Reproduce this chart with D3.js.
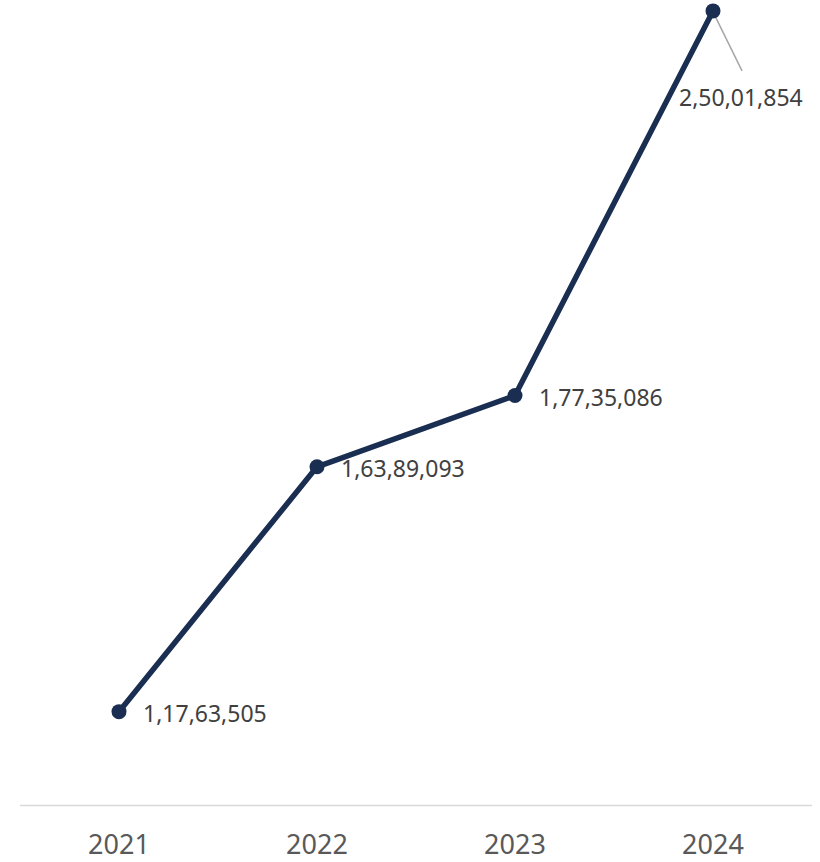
<!DOCTYPE html>
<html>
<head>
<meta charset="utf-8">
<script src="https://cdn.jsdelivr.net/npm/d3@7"></script>
<style>
  html, body { margin: 0; padding: 0; background: #fff; }
  svg text { font-family: "Noto Sans", "Open Sans", sans-serif; }
</style>
</head>
<body>
<svg id="chart" width="820" height="862"></svg>
<script>
"use strict";

const years = ["2021", "2022", "2023", "2024"];
const values = [11763505, 16389093, 17735086, 25001854];
const labels = ["1,17,63,505", "1,63,89,093", "1,77,35,086", "2,50,01,854"];

(function () {
  const svg = d3.select("#chart");
  const plotLeft = 20, plotRight = 812, axisY = 805, plotTop = 11;

  const x = d3.scalePoint().domain(years).range([plotLeft, plotRight]).padding(0.5);
  const y = d3.scaleLinear().domain([10000000, 25000000]).range([axisY, plotTop]);

  // axis baseline
  svg.append("line")
    .attr("x1", plotLeft).attr("x2", plotRight)
    .attr("y1", axisY + 0.5).attr("y2", axisY + 0.5)
    .attr("stroke", "#d9d9d9").attr("stroke-width", 1.5);

  // category labels
  svg.append("g").selectAll("text").data(years).enter().append("text")
    .attr("x", d => x(d))
    .attr("y", 854)
    .attr("text-anchor", "middle")
    .attr("font-size", 27)
    .attr("fill", "#595959")
    .text(d => d);

  const pts = years.map((yr, i) => ({yr, v: values[i], label: labels[i]}));

  // line
  svg.append("path")
    .datum(pts)
    .attr("fill", "none")
    .attr("stroke", "#1a2e52")
    .attr("stroke-width", 5.5)
    .attr("stroke-linejoin", "round")
    .attr("d", d3.line().x(d => x(d.yr)).y(d => y(d.v)));

  // leader line for last label
  const last = pts[pts.length - 1];
  svg.append("line")
    .attr("x1", x(last.yr) + 1).attr("y1", y(last.v) + 3)
    .attr("x2", x(last.yr) + 29).attr("y2", y(last.v) + 60)
    .attr("stroke", "#a6a6a6").attr("stroke-width", 1.5);

  // markers
  svg.append("g").selectAll("circle").data(pts).enter().append("circle")
    .attr("cx", d => x(d.yr))
    .attr("cy", d => y(d.v))
    .attr("r", 7.5)
    .attr("fill", "#1a2e52");

  // data labels
  svg.append("g").selectAll("text").data(pts).enter().append("text")
    .attr("x", (d, i) => i === pts.length - 1 ? x(d.yr) - 34 : x(d.yr) + 24)
    .attr("y", (d, i) => i === pts.length - 1 ? y(d.v) + 95 : y(d.v) + 10)
    .attr("font-size", 23)
    .attr("fill", "#404040")
    .text(d => d.label);
})();
</script>
</body>
</html>
